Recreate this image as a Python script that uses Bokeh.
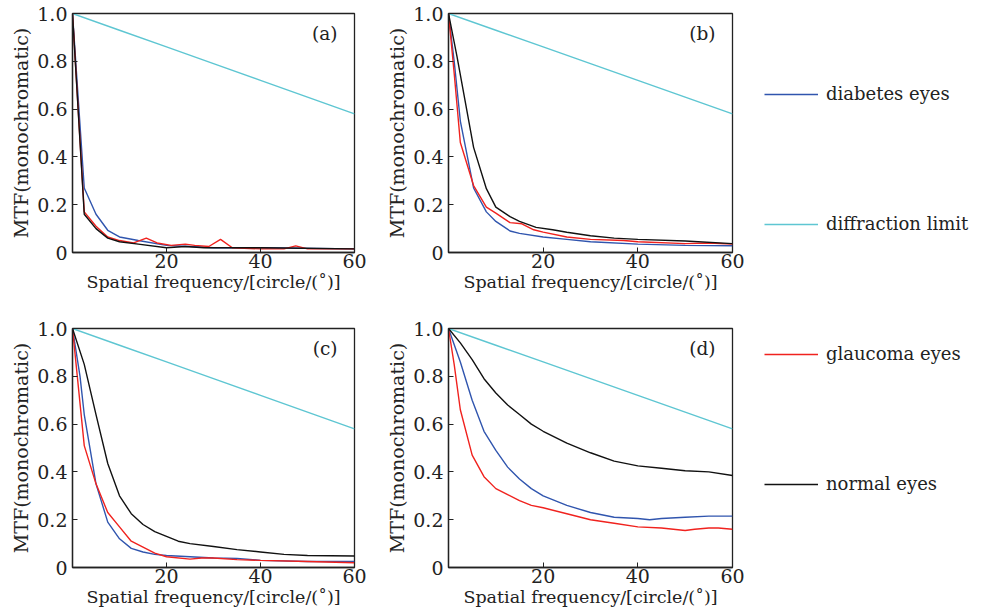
from bokeh.plotting import figure
from bokeh.layouts import row, column
from bokeh.models import FixedTicker, Label, Legend, LegendItem, Range1d
from bokeh.embed import file_html
from bokeh.resources import INLINE

# ---------------- data ----------------
x_ticks = [20, 40, 60]
y_ticks = [0, 0.2, 0.4, 0.6, 0.8, 1.0]
y_tick_labels = ["0", "0.2", "0.4", "0.6", "0.8", "1.0"]

diff_x = [0, 10, 20, 30, 40, 50, 60]
diff_y = [1.0, 0.93, 0.86, 0.79, 0.72, 0.65, 0.58]

# panel (a)
a_blue_x = [0, 2.5, 5, 7.5, 10, 14, 20, 25, 30, 40, 60]
a_blue_y = [1.0, 0.27, 0.16, 0.093, 0.065, 0.05, 0.03, 0.025, 0.02, 0.02, 0.015]
a_black_x = [0, 2.5, 5, 7.5, 10, 14, 20, 24, 28, 40, 60]
a_black_y = [1.0, 0.16, 0.10, 0.06, 0.045, 0.035, 0.02, 0.025, 0.02, 0.02, 0.015]
a_red_x = [0, 2.5, 5, 7.5, 10, 13, 15.7, 18, 21, 24, 26, 29, 31.5, 34, 40, 45, 47.5, 50, 60]
a_red_y = [1.0, 0.17, 0.11, 0.065, 0.05, 0.04, 0.06, 0.04, 0.03, 0.035, 0.03, 0.025, 0.055, 0.02, 0.015, 0.015, 0.028, 0.015, 0.015]

# panel (b)
b_blue_x = [0, 1.2, 2.5, 5.3, 8, 10, 13, 15, 20, 25, 30, 40, 50, 60]
b_blue_y = [1.0, 0.8, 0.55, 0.27, 0.17, 0.13, 0.09, 0.08, 0.065, 0.055, 0.045, 0.035, 0.03, 0.028]
b_black_x = [0, 1.8, 5.3, 8, 10, 13, 15, 18.5, 22, 25, 30, 35, 40, 50, 60]
b_black_y = [1.0, 0.82, 0.44, 0.267, 0.19, 0.15, 0.13, 0.105, 0.095, 0.085, 0.07, 0.06, 0.055, 0.048, 0.037]
b_red_x = [0, 1.2, 2.5, 5.3, 8, 10, 13, 15.5, 18, 20, 25, 30, 37, 40, 50, 55, 60]
b_red_y = [1.0, 0.75, 0.46, 0.28, 0.19, 0.165, 0.125, 0.12, 0.095, 0.085, 0.065, 0.055, 0.05, 0.045, 0.037, 0.04, 0.035]

# panel (c)
c_blue_x = [0, 1.6, 2.5, 5, 7.5, 10, 12.5, 15, 17.5, 20, 25, 30, 35, 40, 50, 60]
c_blue_y = [1.0, 0.8, 0.64, 0.35, 0.19, 0.12, 0.08, 0.065, 0.055, 0.05, 0.045, 0.04, 0.038, 0.03, 0.025, 0.025]
c_black_x = [0, 2.5, 5, 7.5, 10, 12.5, 15, 17.5, 20, 22.5, 25, 30, 35, 40, 45, 50, 60]
c_black_y = [1.0, 0.85, 0.64, 0.435, 0.30, 0.225, 0.18, 0.15, 0.13, 0.11, 0.10, 0.088, 0.075, 0.065, 0.055, 0.05, 0.048]
c_red_x = [0, 2.5, 5, 7.5, 10, 12.5, 15, 17.5, 20, 25, 27.5, 30, 35, 40, 50, 60]
c_red_y = [1.0, 0.51, 0.35, 0.23, 0.17, 0.11, 0.085, 0.06, 0.045, 0.035, 0.04, 0.04, 0.033, 0.03, 0.025, 0.02]

# panel (d)
d_blue_x = [0, 2.5, 5, 7.5, 10, 12.5, 15, 17.5, 20, 25, 30, 35, 40, 42.5, 45, 50, 55, 60]
d_blue_y = [1.0, 0.86, 0.70, 0.57, 0.49, 0.42, 0.37, 0.33, 0.30, 0.26, 0.23, 0.21, 0.205, 0.2, 0.205, 0.21, 0.215, 0.215]
d_black_x = [0, 2.5, 5, 7.5, 10, 12.5, 15, 17.5, 20, 25, 30, 35, 40, 45, 50, 55, 60]
d_black_y = [1.0, 0.94, 0.87, 0.79, 0.73, 0.68, 0.64, 0.60, 0.57, 0.52, 0.48, 0.445, 0.425, 0.415, 0.405, 0.4, 0.385]
d_red_x = [0, 1.2, 2.5, 5, 7.5, 10, 12.5, 15, 17.5, 20, 25, 30, 35, 40, 45, 50, 52, 55, 57, 60]
d_red_y = [1.0, 0.85, 0.66, 0.47, 0.38, 0.33, 0.305, 0.28, 0.26, 0.25, 0.225, 0.2, 0.185, 0.17, 0.165, 0.155, 0.16, 0.165, 0.165, 0.16]

panels = [
    ("(a)", a_blue_x, a_blue_y, a_red_x, a_red_y, a_black_x, a_black_y),
    ("(b)", b_blue_x, b_blue_y, b_red_x, b_red_y, b_black_x, b_black_y),
    ("(c)", c_blue_x, c_blue_y, c_red_x, c_red_y, c_black_x, c_black_y),
    ("(d)", d_blue_x, d_blue_y, d_red_x, d_red_y, d_black_x, d_black_y),
]

series_names = ["diabetes eyes", "diffraction limit", "glaucoma eyes", "normal eyes"]

BLUE = "#3055ae"
CYAN = "#5ec6d2"
RED = "#f0221e"
BLACK = "#111111"
FONT = "DejaVu Serif"

# layout: [width, height, border_left, border_right, border_top, border_bottom]
geom = {
    "(a)": (370, 313, 72, 16, 13, 61),
    "(b)": (376, 313, 78, 14, 13, 61),
    "(c)": (370, 300, 72, 16, 15, 46),
    "(d)": (376, 300, 78, 14, 15, 46),
}


def make_panel(tag, bx, by, rx, ry, kx, ky):
    w, h, bl, br, bt, bb = geom[tag]
    p = figure(width=w, height=h, output_backend="svg", toolbar_location=None,
               x_range=Range1d(0, 60), y_range=Range1d(0, 1.0),
               min_border_left=bl, min_border_right=br,
               min_border_top=bt, min_border_bottom=bb)
    p.background_fill_color = None
    p.border_fill_color = None
    p.grid.visible = False
    p.outline_line_color = "#222222"
    p.outline_line_width = 1.3
    p.line(diff_x, diff_y, color=CYAN, line_width=1.4)
    p.line(bx, by, color=BLUE, line_width=1.4)
    p.line(rx, ry, color=RED, line_width=1.4)
    p.line(kx, ky, color=BLACK, line_width=1.4)

    p.xaxis.ticker = FixedTicker(ticks=x_ticks)
    p.yaxis.ticker = FixedTicker(ticks=y_ticks)
    p.yaxis.major_label_overrides = {t: l for t, l in zip(y_ticks, y_tick_labels)}
    for ax in (p.xaxis[0], p.yaxis[0]):
        ax.major_tick_in = 5
        ax.major_tick_out = 0
        ax.minor_tick_in = 0
        ax.minor_tick_out = 0
        ax.axis_line_color = "#222222"
        ax.axis_line_width = 1.3
        ax.major_tick_line_color = "#222222"
        ax.major_label_text_font = FONT
        ax.major_label_text_font_size = "19px"
        ax.major_label_text_color = "#222222"
        ax.axis_label_text_font = FONT
        ax.axis_label_text_font_style = "normal"
        ax.axis_label_text_color = "#222222"
    p.xaxis.axis_label_text_font_size = "17.5px"
    p.yaxis.axis_label_text_font_size = "19px"
    p.xaxis.axis_label = "Spatial frequency/[circle/(\u02da)]"
    p.yaxis.axis_label = "MTF(monochromatic)"
    p.xaxis.axis_label_standoff = 1
    p.yaxis.axis_label_standoff = 2
    p.xaxis.major_label_standoff = 1
    p.yaxis.major_label_standoff = 5

    p.add_layout(Label(x=56.4, y=0.916, text=tag, text_align="right",
                       text_baseline="middle", text_font=FONT,
                       text_font_size="18.5px", text_color="#222222"))
    return p


figs = [make_panel(*pn) for pn in panels]

# legend figure
lg = figure(width=228, height=613, output_backend="svg", toolbar_location=None,
            x_range=Range1d(0, 1), y_range=Range1d(0, 1),
            min_border_left=0, min_border_right=0, min_border_top=0, min_border_bottom=0)
lg.axis.visible = False
lg.grid.visible = False
lg.outline_line_color = None
lg.background_fill_color = None
lg.border_fill_color = None
colors = [BLUE, CYAN, RED, BLACK]
items = []
for name, c in zip(series_names, colors):
    r = lg.line(x=[5, 6], y=[5, 5], color=c, line_width=1.6)
    items.append(LegendItem(label=name, renderers=[r]))
legend = Legend(items=items, location=(18, 119), spacing=109, glyph_width=54,
                glyph_height=20, label_height=20, label_standoff=8,
                label_text_font=FONT, label_text_font_size="18px",
                label_text_color="#222222", border_line_color=None,
                background_fill_color=None, padding=10, margin=0)
lg.add_layout(legend)

layout = row(column(figs[0], figs[2]), column(figs[1], figs[3]), lg)

open("out.html", "w").write(file_html(layout, INLINE))
